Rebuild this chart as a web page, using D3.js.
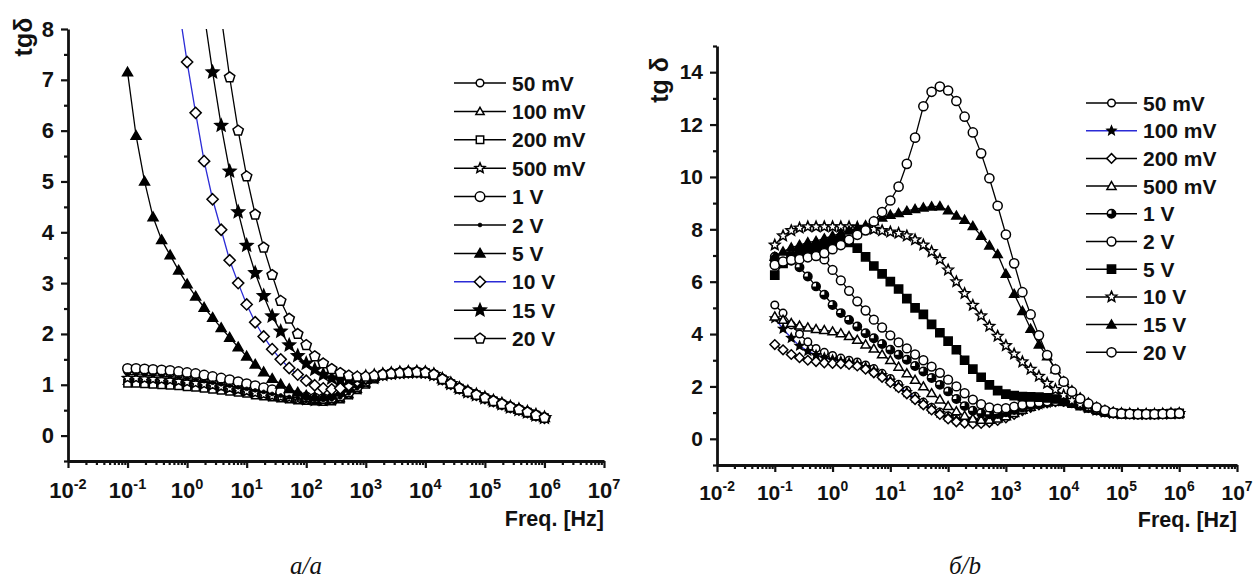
<!DOCTYPE html>
<html>
<head>
<meta charset="utf-8">
<script src="https://cdn.jsdelivr.net/npm/d3@7"></script>
<style>
  html, body { margin: 0; padding: 0; background: #fff; }
  svg { display: block; }
  text { font-family: "Liberation Sans", Arial, sans-serif; font-weight: bold; fill: #111; }
  .caption { font-family: "Liberation Serif", "Times New Roman", serif; font-style: italic; font-weight: normal; }
</style>
</head>
<body>
<svg id="chart" width="1256" height="579"></svg>
<script>
// ---- measurement grid: 7 points per decade, 0.1 Hz .. 1 MHz ----
const freqHz = [
  0.1, 0.139, 0.193, 0.268, 0.373, 0.518, 0.72,
  1, 1.39, 1.93, 2.68, 3.73, 5.18, 7.2,
  10, 13.9, 19.3, 26.8, 37.3, 51.8, 72,
  100, 139, 193, 268, 373, 518, 720,
  1000, 1390, 1930, 2680, 3730, 5180, 7200,
  1e4, 1.39e4, 1.93e4, 2.68e4, 3.73e4, 5.18e4, 7.2e4,
  1e5, 1.39e5, 1.93e5, 2.68e5, 3.73e5, 5.18e5, 7.2e5,
  1e6
];

// ---- tick values ----
const decadeTicks = [1e-2, 1e-1, 1e0, 1e1, 1e2, 1e3, 1e4, 1e5, 1e6, 1e7];
const decadeExponents = ["-2", "-1", "0", "1", "2", "3", "4", "5", "6", "7"];
const yMajorA = [0, 1, 2, 3, 4, 5, 6, 7, 8];
const yMinorA = [-0.5, 0.5, 1.5, 2.5, 3.5, 4.5, 5.5, 6.5, 7.5];
const yMajorB = [0, 2, 4, 6, 8, 10, 12, 14];
const yMinorB = [-1, 1, 3, 5, 7, 9, 11, 13, 15];

// ---- panel a: tg delta, 0.1 Hz .. 1.39 kHz part of each run ----
// common high-frequency branch (from 1.93 kHz on), shared by every run
const tailA = [1.2, 1.22, 1.235, 1.245, 1.25, 1.24, 1.2, 1.11, 1.02, 0.93,
               0.86, 0.8, 0.74, 0.68, 0.62, 0.56, 0.51, 0.46, 0.4, 0.35];
const a50mV  = [1.27,1.27,1.26,1.25,1.24,1.22,1.2,1.18,1.16,1.13, 1.1,1.07,1.04,1.0,0.97,0.93,0.89,0.86,0.82,0.79, 0.76,0.74,0.72,0.71,0.72,0.76,0.84,0.94,1.05,1.14];
const a100mV = [1.07,1.07,1.06,1.05,1.04,1.03,1.02,1.0,0.98,0.96, 0.94,0.92,0.9,0.87,0.85,0.82,0.79,0.77,0.75,0.73, 0.71,0.7,0.68,0.68,0.69,0.73,0.81,0.91,1.02,1.12];
const a200mV = [1.03,1.03,1.02,1.01,1.0,0.99,0.98,0.96,0.95,0.93, 0.91,0.89,0.87,0.85,0.83,0.8,0.78,0.76,0.74,0.72, 0.7,0.69,0.68,0.67,0.68,0.72,0.8,0.9,1.01,1.11];
const a500mV = [1.13,1.13,1.12,1.11,1.1,1.09,1.07,1.05,1.03,1.01, 0.99,0.96,0.93,0.9,0.87,0.84,0.81,0.78,0.76,0.74, 0.72,0.7,0.69,0.69,0.7,0.74,0.82,0.92,1.03,1.12];
const a1V    = [1.32,1.32,1.31,1.3,1.29,1.28,1.26,1.24,1.22,1.19, 1.16,1.13,1.1,1.06,1.02,0.98,0.94,0.9,0.86,0.82, 0.79,0.76,0.74,0.73,0.74,0.78,0.86,0.96,1.07,1.15];
const a2V    = [1.2,1.2,1.19,1.18,1.17,1.16,1.14,1.12,1.1,1.07, 1.04,1.01,0.98,0.95,0.92,0.89,0.86,0.82,0.79,0.76, 0.74,0.72,0.7,0.7,0.71,0.75,0.83,0.93,1.04,1.13];
const a5V    = [7.15,5.9,5.0,4.3,3.85,3.55,3.25,2.98,2.74,2.52, 2.32,2.12,1.93,1.74,1.56,1.4,1.25,1.12,1.01,0.92, 0.85,0.79,0.76,0.76,0.79,0.85,0.93,1.02,1.1,1.16];
const a10V   = [null,null,null,null,null,null,8.45,7.35,6.35,5.4, 4.65,4.05,3.45,3.0,2.58,2.23,1.95,1.7,1.5,1.33, 1.2,1.08,0.99,0.93,0.91,0.93,0.99,1.07,1.13,1.17];
const a15V   = [null,null,null,null,null,null,null,null,null,8.3, 7.15,6.1,5.2,4.4,3.74,3.2,2.75,2.35,2.05,1.78, 1.57,1.42,1.3,1.2,1.13,1.1,1.1,1.13,1.16,1.18];
const a20V   = [null,null,null,null,null,null,null,null,null,null, null,8.25,7.05,6.0,5.1,4.35,3.7,3.16,2.65,2.3, 2.0,1.78,1.56,1.42,1.31,1.23,1.18,1.16,1.16,1.18];

// ---- panel b: tg delta, 0.1 Hz .. 72 kHz part of each run ----
const tailB = [0.96, 0.95, 0.94, 0.94, 0.94, 0.95, 0.96, 0.97];
const b50mV  = [5.11,4.8,4.35,4.0,3.7,3.45,3.3,3.18,3.08,3.0, 2.93,2.82,2.68,2.5,2.3,2.08,1.85,1.62,1.4,1.2, 1.02,0.88,0.78,0.72,0.7,0.71,0.75,0.82,0.92,1.03, 1.15,1.25,1.33,1.38,1.42,1.43,1.38,1.3,1.2,1.1, 1.03,0.98];
const b100mV = [4.6,4.2,3.85,3.55,3.35,3.2,3.1,3.02,2.96,2.9, 2.84,2.74,2.6,2.43,2.22,2.0,1.78,1.56,1.35,1.15, 0.98,0.84,0.74,0.68,0.66,0.67,0.7,0.77,0.87,0.99, 1.11,1.22,1.31,1.37,1.42,1.43,1.38,1.3,1.2,1.1, 1.03,0.98];
const b200mV = [3.6,3.4,3.22,3.1,3.0,2.95,2.9,2.88,2.87,2.84, 2.78,2.66,2.52,2.35,2.15,1.95,1.72,1.5,1.3,1.1, 0.93,0.76,0.65,0.6,0.58,0.59,0.63,0.7,0.8,0.93, 1.08,1.2,1.3,1.37,1.42,1.43,1.38,1.3,1.2,1.1, 1.03,0.98];
const b500mV = [4.67,4.54,4.42,4.32,4.25,4.19,4.15,4.1,4.03,3.92, 3.78,3.6,3.44,3.22,3.0,2.75,2.5,2.25,2.0,1.74, 1.5,1.25,1.05,0.88,0.77,0.72,0.72,0.77,0.86,0.98, 1.1,1.22,1.32,1.38,1.42,1.43,1.38,1.3,1.2,1.1, 1.03,0.98];
const b1V    = [6.95,6.9,6.8,6.55,6.2,5.82,5.5,5.11,4.8,4.54, 4.29,4.03,3.84,3.62,3.4,3.21,3.02,2.78,2.57,2.32, 2.06,1.81,1.52,1.25,1.07,0.98,0.94,0.95,1.01,1.1, 1.2,1.28,1.35,1.4,1.43,1.43,1.38,1.3,1.2,1.1, 1.03,0.98];
const b2V    = [6.85,6.95,7.0,7.05,7.05,7.0,6.85,6.45,6.05,5.65, 5.25,4.9,4.55,4.25,3.95,3.68,3.45,3.22,3.0,2.76, 2.52,2.26,2.0,1.74,1.5,1.32,1.2,1.15,1.17,1.23, 1.3,1.36,1.4,1.43,1.44,1.43,1.38,1.3,1.2,1.1, 1.03,0.98];
const b5V    = [6.25,6.7,6.95,7.1,7.2,7.3,7.4,7.5,7.55,7.5, 7.28,6.95,6.6,6.3,6.0,5.72,5.35,5.0,4.75,4.37, 4.05,3.73,3.4,3.0,2.66,2.35,2.06,1.84,1.71,1.65, 1.61,1.6,1.59,1.56,1.52,1.45,1.36,1.27,1.18,1.1, 1.03,0.98];
const b10V   = [7.4,7.75,7.95,8.05,8.1,8.1,8.1,8.1,8.1,8.1, 8.08,8.05,8.0,7.95,7.9,7.85,7.75,7.6,7.4,7.15, 6.85,6.45,6.0,5.55,5.1,4.7,4.3,3.92,3.56,3.24, 2.94,2.66,2.39,2.12,1.88,1.66,1.46,1.32,1.2,1.1, 1.03,0.98];
const b15V   = [6.95,7.15,7.3,7.4,7.5,7.55,7.65,7.75,7.85,7.95, 8.05,8.15,8.3,8.45,8.55,8.62,8.7,8.77,8.83,8.87, 8.88,8.72,8.52,8.36,8.12,7.75,7.38,7.05,6.3,5.53, 4.88,4.2,3.6,3.15,2.65,2.2,1.85,1.58,1.38,1.22, 1.1,1.02];
const b20V   = [6.64,6.77,6.83,6.86,6.93,6.98,7.09,7.24,7.4,7.6, 7.79,7.96,8.3,8.66,9.1,9.63,10.5,11.5,12.7,13.25, 13.45,13.3,12.9,12.3,11.7,10.9,9.95,8.9,7.8,6.7, 5.6,4.75,3.95,3.2,2.65,2.18,1.8,1.53,1.34,1.2, 1.09,1.0];

// ---- series definitions (label, values, marker style) ----
const BLUE = "#2b2bd6";
const seriesA = [
  { label: "50 mV",  values: a50mV.concat(tailA),  marker: "circle",   r: 3.8, filled: false },
  { label: "100 mV", values: a100mV.concat(tailA), marker: "triangle", r: 4.3, filled: false },
  { label: "200 mV", values: a200mV.concat(tailA), marker: "square",   r: 3.7, filled: false },
  { label: "500 mV", values: a500mV.concat(tailA), marker: "star",     r: 4.6, filled: false },
  { label: "1 V",    values: a1V.concat(tailA),    marker: "circle",   r: 4.8, filled: false },
  { label: "2 V",    values: a2V.concat(tailA),    marker: "dot",      r: 1.9, filled: true },
  { label: "5 V",    values: a5V.concat(tailA),    marker: "triangle", r: 5.2, filled: true },
  { label: "10 V",   values: a10V.concat(tailA),   marker: "diamond",  r: 5.6, filled: false, line: BLUE },
  { label: "15 V",   values: a15V.concat(tailA),   marker: "star",     r: 5.6, filled: true },
  { label: "20 V",   values: a20V.concat(tailA),   marker: "pentagon", r: 5.4, filled: false }
];
const seriesB = [
  { label: "50 mV",  values: b50mV.concat(tailB),  marker: "circle",   r: 3.8, filled: false },
  { label: "100 mV", values: b100mV.concat(tailB), marker: "star",     r: 3.9, filled: true, line: BLUE },
  { label: "200 mV", values: b200mV.concat(tailB), marker: "diamond",  r: 4.8, filled: false },
  { label: "500 mV", values: b500mV.concat(tailB), marker: "triangle", r: 4.8, filled: false },
  { label: "1 V",    values: b1V.concat(tailB),    marker: "half",     r: 4.2, filled: false },
  { label: "2 V",    values: b2V.concat(tailB),    marker: "circle",   r: 4.4, filled: false },
  { label: "5 V",    values: b5V.concat(tailB),    marker: "square",   r: 4.1, filled: true },
  { label: "10 V",   values: b10V.concat(tailB),   marker: "star",     r: 4.8, filled: false },
  { label: "15 V",   values: b15V.concat(tailB),   marker: "triangle", r: 4.8, filled: true },
  { label: "20 V",   values: b20V.concat(tailB),   marker: "circle",   r: 4.6, filled: false }
];

// ---- marker geometry ----
function polygon(n, r, inner, rot, dy) {
  const pts = [];
  const count = inner ? n * 2 : n;
  for (let k = 0; k < count; k++) {
    const rr = inner && (k % 2 === 1) ? r * inner : r;
    const a = rot + (k * 2 * Math.PI) / count;
    pts.push([rr * Math.cos(a), rr * Math.sin(a) + (dy || 0)]);
  }
  return "M" + pts.map(p => p[0].toFixed(2) + "," + p[1].toFixed(2)).join("L") + "Z";
}
function circlePath(r) {
  return `M${-r},0A${r},${r} 0 1,0 ${r},0A${r},${r} 0 1,0 ${-r},0Z`;
}
function markerPath(type, r) {
  switch (type) {
    case "circle": case "dot": case "half": return circlePath(r);
    case "triangle": return polygon(3, r * 1.1, 0, -Math.PI / 2, r * 0.15);
    case "square": return `M${-r},${-r}H${r}V${r}H${-r}Z`;
    case "diamond": return polygon(4, r, 0, -Math.PI / 2);
    case "star": return polygon(5, r * 1.15, 0.45, -Math.PI / 2);
    case "pentagon": return polygon(5, r, 0, -Math.PI / 2);
  }
}
function drawMarker(sel, s) {
  sel.append("path")
    .attr("d", markerPath(s.marker, s.r))
    .attr("fill", s.filled ? "#000" : "#fff")
    .attr("stroke", "#000")
    .attr("stroke-width", s.marker === "dot" ? 0.8 : 1.5);
  if (s.marker === "half") {
    const r = s.r;
    sel.append("path")
      .attr("d", `M0,${-r}A${r},${r} 0 1,1 ${-r},0L0,0Z`)
      .attr("fill", "#000");
  }
}

const svg = d3.select("#chart");

function drawPanel(cfg) {
  const x = d3.scaleLog().domain([1e-2, 1e7]).range([cfg.x0, cfg.x1]);
  const y = d3.scaleLinear().domain(cfg.yDomain).range([cfg.yBottom, cfg.yTop]);
  const g = svg.append("g");

  // minor ticks
  g.append("g").attr("transform", `translate(${cfg.x0},0)`)
    .call(d3.axisLeft(y).tickValues(cfg.yMinor).tickSize(4).tickFormat(""))
    .call(s => s.select(".domain").remove());
  const minorX = [];
  decadeTicks.slice(0, -1).forEach(d => { for (let m = 2; m <= 9; m++) minorX.push(d * m); });
  g.append("g").attr("transform", `translate(0,${cfg.yBottom})`)
    .call(d3.axisBottom(x).tickValues(minorX).tickSize(4).tickFormat(""))
    .call(s => s.select(".domain").remove());

  // major y axis
  const ya = g.append("g").attr("transform", `translate(${cfg.x0},0)`)
    .call(d3.axisLeft(y).tickValues(cfg.yMajor).tickSize(7).tickSizeOuter(0).tickPadding(7));
  ya.selectAll("text").attr("font-size", cfg.tickFont).attr("fill", "#111")
    .attr("font-family", '"Liberation Sans", Arial, sans-serif');

  // major x axis with power-of-ten labels
  g.append("g").attr("transform", `translate(0,${cfg.yBottom})`)
    .call(d3.axisBottom(x).tickValues(decadeTicks).tickSize(7).tickSizeOuter(0).tickFormat(""));
  decadeTicks.forEach((d, k) => {
    const t = g.append("text").attr("x", x(d)).attr("y", cfg.xLabelY)
      .attr("text-anchor", "middle").attr("font-size", cfg.tickFont);
    t.append("tspan").text("10");
    t.append("tspan").attr("dy", -9).attr("font-size", cfg.tickFont * 0.66).text(decadeExponents[k]);
  });

  g.selectAll(".domain").attr("stroke", "#111").attr("stroke-width", 2.8);
  g.selectAll(".tick line").attr("stroke", "#111").attr("stroke-width", 2.2);

  // axis titles
  g.append("text").attr("x", cfg.x1).attr("y", cfg.xTitleY).attr("text-anchor", "end")
    .attr("font-size", 21.5).text("Freq. [Hz]");
  g.append("text")
    .attr("transform", `translate(${cfg.yTitleX},${cfg.yTitleY}) rotate(-90)`)
    .attr("text-anchor", "middle").attr("font-size", 25).text(cfg.yTitle);

  // data
  const clipId = "clip-" + cfg.id;
  svg.append("clipPath").attr("id", clipId).append("rect")
    .attr("x", cfg.x0).attr("y", cfg.yTop).attr("width", cfg.x1 - cfg.x0).attr("height", cfg.yBottom - cfg.yTop);
  const plot = svg.append("g").attr("clip-path", `url(#${clipId})`);
  const line = d3.line()
    .defined(d => d.v !== null)
    .x(d => x(d.f)).y(d => y(d.v));

  cfg.series.forEach(s => {
    const pts = s.values.map((v, k) => ({ f: freqHz[k], v: v }));
    plot.append("path").datum(pts)
      .attr("d", line).attr("fill", "none")
      .attr("stroke", s.line || "#000").attr("stroke-width", 1.3);
    pts.filter(p => p.v !== null).forEach(p => {
      drawMarker(plot.append("g").attr("transform", `translate(${x(p.f)},${y(p.v)})`), s);
    });
  });

  // legend
  cfg.series.forEach((s, k) => {
    const cy = cfg.legY + k * cfg.legStep;
    const lg = svg.append("g");
    lg.append("line").attr("x1", cfg.legX0).attr("x2", cfg.legX1).attr("y1", cy).attr("y2", cy)
      .attr("stroke", s.line || "#000").attr("stroke-width", 1.5);
    drawMarker(lg.append("g").attr("transform", `translate(${(cfg.legX0 + cfg.legX1) / 2},${cy})`), s);
    lg.append("text").attr("x", cfg.legX1 + 6).attr("y", cy + 7.5).attr("font-size", 21).text(s.label);
  });

  svg.append("text").attr("class", "caption").attr("x", cfg.capX).attr("y", 574)
    .attr("text-anchor", "middle").attr("font-size", 25).text(cfg.caption);
}

drawPanel({
  id: "a", x0: 68, x1: 604, yTop: 29, yBottom: 461, yDomain: [-0.5, 8],
  yMajor: yMajorA, yMinor: yMinorA, tickFont: 22, xLabelY: 498, xTitleY: 526,
  yTitle: "tgδ", yTitleX: 32, yTitleY: 37,
  series: seriesA, legX0: 454, legX1: 506, legY: 83, legStep: 28.4,
  caption: "а/a", capX: 306
});
drawPanel({
  id: "b", x0: 717, x1: 1237, yTop: 46, yBottom: 465, yDomain: [-1, 15],
  yMajor: yMajorB, yMinor: yMinorB, tickFont: 21, xLabelY: 500, xTitleY: 527,
  yTitle: "tg δ", yTitleX: 668, yTitleY: 80,
  series: seriesB, legX0: 1086, legX1: 1137, legY: 103, legStep: 27.7,
  caption: "б/b", capX: 965
});
</script>
</body>
</html>
